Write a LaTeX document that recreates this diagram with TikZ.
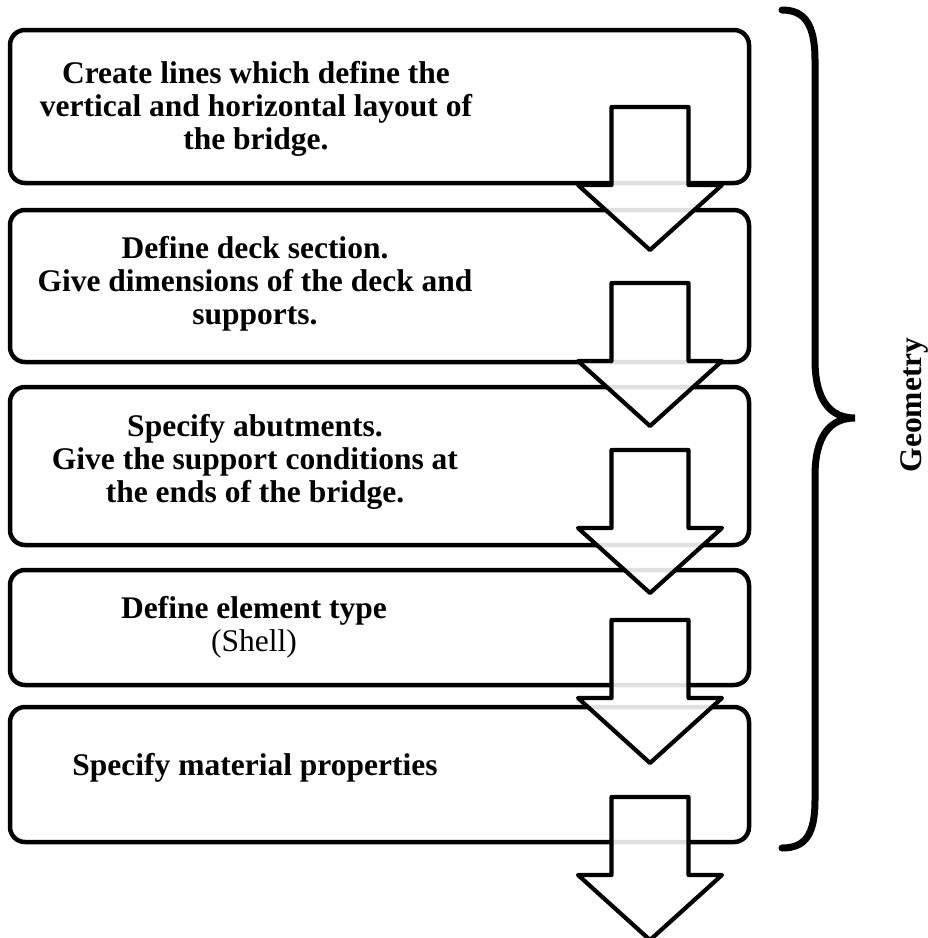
\documentclass[tikz,border=0pt]{standalone}
\usepackage{fontspec}
\setmainfont{Liberation Serif}
\begin{document}
\begin{tikzpicture}[x=1pt,y=-1pt,
  stepbox/.style={draw=black,line width=4.5pt,rounded corners=15pt},
  steptext/.style={align=center,font=\fontsize{31.5}{33}\selectfont\bfseries,inner sep=0pt},
  blockarrow/.style={draw=black,line width=4.2pt,fill=white,fill opacity=0.88,line join=round}]
\useasboundingbox (0,0) rectangle (928,938);
% boxes
\draw[stepbox] (10,30) rectangle (749,183);
\draw[stepbox] (10,210) rectangle (749,362);
\draw[stepbox] (10,387) rectangle (749,545);
\draw[stepbox] (10,570) rectangle (749,685);
\draw[stepbox] (10,707) rectangle (749,842);
% texts
\node[steptext] (t1) at (256,108.5) {Create lines which define the\\vertical and horizontal layout of\\the bridge.};
\node[steptext] (t2) at (255,283.5) {Define deck section.\\Give dimensions of the deck and\\supports.};
\node[steptext] (t3) at (255,461.5) {Specify abutments.\\Give the support conditions at\\the ends of the bridge.};
\node[steptext] (t4) at (254,627.5) {Define element type\\{\mdseries (Shell)}};
\node[steptext] (t5) at (255,767.5) {Specify material properties};
% arrows
\foreach \t in {107,283,450,620,797}{
  \draw[blockarrow] (611.5,\t) -- (688.5,\t) -- (688.5,\t+78) -- (722,\t+78) -- (650,\t+143) -- (578,\t+78) -- (611.5,\t+78) -- cycle;
}
% brace
\draw[line width=7pt,line cap=round] (782,10) .. controls (805,10) and (815,25) .. (815,60) -- (815,360) .. controls (815,400) and (830,418) .. (855,418) .. controls (830,418) and (815,436) .. (815,476) -- (815,800) .. controls (815,835) and (805,848) .. (782,848);
\node[rotate=90,font=\fontsize{31.5}{33}\selectfont\bfseries,inner sep=0pt] (geo) at (914,405) {Geometry};
\end{tikzpicture}
\end{document}
